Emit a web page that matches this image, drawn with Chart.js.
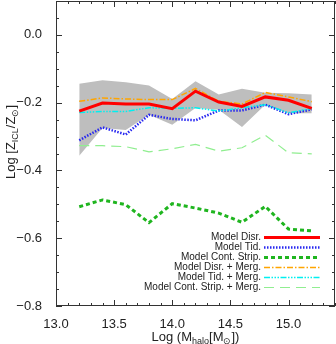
<!DOCTYPE html>
<html><head><meta charset="utf-8">
<script src="https://cdn.jsdelivr.net/npm/chart.js@4/dist/chart.umd.min.js"></script>
<style>html,body{margin:0;padding:0;background:#fff}#wrap{width:336px;height:344px}</style>
</head><body><div id="wrap"><canvas id="c" width="336" height="344"></canvas></div>
<script>
const massBins = [13.2, 13.4, 13.6, 13.8, 14.0, 14.2, 14.4, 14.6, 14.8, 15.0, 15.2];
const modelDisr = [-0.225, -0.201, -0.204, -0.204, -0.218, -0.166, -0.198, -0.211, -0.183, -0.193, -0.217];
const modelTid = [-0.311, -0.273, -0.294, -0.236, -0.248, -0.252, -0.223, -0.223, -0.206, -0.234, -0.220];
const modelContStrip = [-0.507, -0.487, -0.501, -0.554, -0.498, -0.511, -0.526, -0.553, -0.506, -0.573, -0.578];
const modelDisrMerg = [-0.196, -0.186, -0.189, -0.191, -0.191, -0.158, -0.196, -0.204, -0.170, -0.183, -0.197];
const modelTidMerg = [-0.229, -0.226, -0.226, -0.215, -0.217, -0.215, -0.225, -0.215, -0.206, -0.230, -0.217];
const modelContStripMerg = [-0.327, -0.327, -0.330, -0.345, -0.336, -0.323, -0.343, -0.333, -0.296, -0.348, -0.351];
const bandUpper = [-0.144, -0.134, -0.140, -0.149, -0.189, -0.137, -0.176, -0.159, -0.171, -0.172, -0.176];
const bandLower = [-0.357, -0.275, -0.281, -0.236, -0.265, -0.216, -0.221, -0.272, -0.206, -0.231, -0.231];
const seriesNames = ["Model Disr.", "Model Tid.", "Model Cont. Strip.", "Model Disr. + Merg.", "Model Tid. + Merg.", "Model Cont. Strip. + Merg."];
const xTickValues = [13.0, 13.5, 14.0, 14.5, 15.0];
const yTickValues = [-0.8, -0.6, -0.4, -0.2, 0.0];

const pts = arr => massBins.map((x, i) => ({x: x, y: arr[i]}));
const FONT = '"Liberation Sans", Arial, sans-serif';
const INK = '#222';

const styles = [
  {color: '#ff0000', width: 3, dash: []},
  {color: 'rgb(40,40,240)', width: 2.5, dash: [1.5, 1.5]},
  {color: '#1fb51f', width: 3, dash: [4, 3]},
  {color: '#ffa500', width: 1.5, dash: [6, 2, 1.5, 2]},
  {color: '#00f0f0', width: 1.5, dash: [6, 1.5, 1.5, 1.5, 1.5, 1.5, 1.5, 1.5]},
  {color: '#90ee90', width: 1.2, dash: [10, 6]}
];
const seriesData = [modelDisr, modelTid, modelContStrip, modelDisrMerg, modelTidMerg, modelContStripMerg];
const drawOrder = [0, 3, 4, 1, 2, 5];

const datasets = drawOrder.map(i => ({
  label: seriesNames[i],
  data: pts(seriesData[i]),
  borderColor: styles[i].color,
  borderWidth: styles[i].width,
  borderDash: styles[i].dash,
  borderCapStyle: 'butt',
  pointRadius: 0,
  tension: 0,
  fill: false
}));
datasets.push({label: 'band upper', data: pts(bandUpper), borderWidth: 0, borderColor: 'rgba(0,0,0,0)', pointRadius: 0, fill: false});
datasets.push({label: 'band lower', data: pts(bandLower), borderWidth: 0, borderColor: 'rgba(0,0,0,0)', pointRadius: 0, fill: '-1', backgroundColor: '#bebebe'});

function drawRich(ctx, parts, x, y) {
  let cx = x;
  for (const p of parts) {
    ctx.font = (p.sub ? '9px ' : '13px ') + FONT;
    ctx.fillText(p.t, cx, y + (p.sub ? 3 : 0));
    cx += ctx.measureText(p.t).width;
  }
}
function richWidth(ctx, parts) {
  let w = 0;
  for (const p of parts) { ctx.font = (p.sub ? '9px ' : '13px ') + FONT; w += ctx.measureText(p.t).width; }
  return w;
}

const decor = {
  id: 'decor',
  afterDraw(chart) {
    const ctx = chart.ctx, a = chart.chartArea, xs = chart.scales.x, ys = chart.scales.y;
    ctx.save();
    ctx.strokeStyle = '#333';
    ctx.lineWidth = 1;
    ctx.strokeRect(a.left + 0.5, a.top + 0.5, a.right - a.left - 1, a.bottom - a.top - 1);
    ctx.beginPath();
    for (let i = 130; i <= 154; i++) {
      const px = Math.round(xs.getPixelForValue(i / 10)) + 0.5;
      const len = (i % 5 === 0) ? 6 : 3;
      ctx.moveTo(px, a.bottom); ctx.lineTo(px, a.bottom - len);
      ctx.moveTo(px, a.top); ctx.lineTo(px, a.top + len);
    }
    for (let i = -16; i <= 2; i++) {
      const py = Math.round(ys.getPixelForValue(i * 0.05)) + 0.5;
      const len = (i % 4 === 0) ? 6 : 3;
      ctx.moveTo(a.left, py); ctx.lineTo(a.left + len, py);
      ctx.moveTo(a.right, py); ctx.lineTo(a.right - len, py);
    }
    ctx.stroke();

    // legend
    ctx.font = '10px ' + FONT;
    ctx.textAlign = 'right';
    ctx.textBaseline = 'middle';
    for (let k = 0; k < seriesNames.length; k++) {
      const y = 237 + k * 10;
      ctx.fillStyle = INK;
      ctx.fillText(seriesNames[k], 261, y);
      ctx.beginPath();
      ctx.strokeStyle = styles[k].color;
      ctx.lineWidth = styles[k].width;
      ctx.setLineDash(styles[k].dash);
      ctx.moveTo(264, y + 0.5); ctx.lineTo(320, y + 0.5);
      ctx.stroke();
    }
    ctx.setLineDash([]);

    // axis titles
    ctx.fillStyle = INK;
    ctx.textAlign = 'left';
    ctx.textBaseline = 'alphabetic';
    const xt = [{t: 'Log (M'}, {t: 'halo', sub: true}, {t: '[M'}, {t: '\u2299', sub: true}, {t: '])'}];
    const xw = richWidth(ctx, xt);
    drawRich(ctx, xt, (a.left + a.right) / 2 - xw / 2, 341);
    const yt = [{t: 'Log [Z'}, {t: 'ICL', sub: true}, {t: '/Z'}, {t: '\u2299', sub: true}, {t: ']'}];
    const yw = richWidth(ctx, yt);
    ctx.translate(15, 142 + yw / 2);
    ctx.rotate(-Math.PI / 2);
    drawRich(ctx, yt, 0, 0);
    ctx.restore();
  }
};

new Chart(document.getElementById('c'), {
  type: 'line',
  data: {datasets: datasets},
  options: {
    responsive: false,
    animation: false,
    devicePixelRatio: 1,
    layout: {padding: {top: 1, right: 1, left: 0, bottom: 0}},
    plugins: {legend: {display: false}, tooltip: {enabled: false}, filler: {drawTime: 'beforeDatasetsDraw'}},
    scales: {
      x: {
        type: 'linear', min: 13.0, max: 15.4,
        grid: {display: false}, border: {display: false},
        afterBuildTicks: s => { s.ticks = xTickValues.map(v => ({value: v})); },
        afterFit: s => { s.height = 38; s.paddingLeft = 0; s.paddingRight = 0; },
        ticks: {padding: 3, maxRotation: 0, autoSkip: false, color: INK, font: {family: FONT, size: 13},
          callback: v => Number(v).toFixed(1)}
      },
      y: {
        type: 'linear', min: -0.8, max: 0.1,
        grid: {display: false}, border: {display: false},
        afterBuildTicks: s => { s.ticks = yTickValues.map(v => ({value: v})); },
        afterFit: s => { s.width = 56; s.paddingTop = 0; s.paddingBottom = 0; },
        ticks: {padding: 6, autoSkip: false, color: INK, font: {family: FONT, size: 13},
          callback: v => (v < -1e-9 ? '\u2212' : '') + Math.abs(v).toFixed(1)}
      }
    }
  },
  plugins: [decor]
});
</script>
</body></html>
